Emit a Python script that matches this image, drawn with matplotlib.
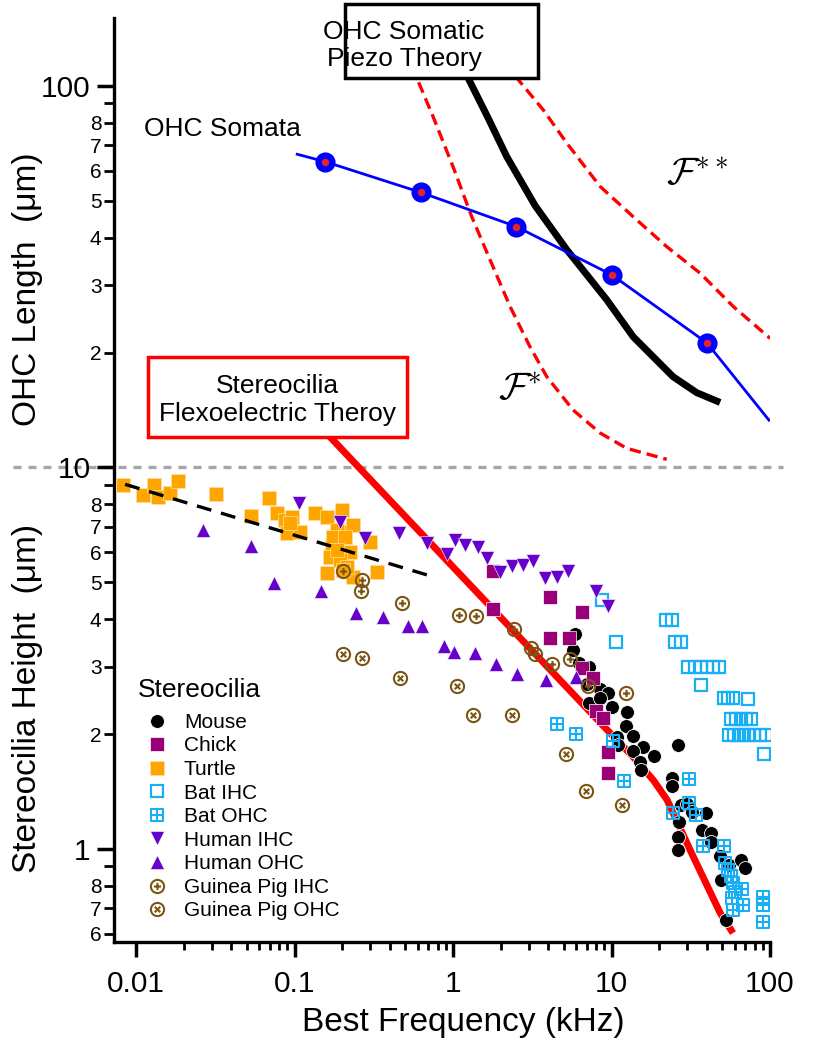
import numpy as np
import matplotlib
matplotlib.use('Agg')
from matplotlib import pyplot as plt
from matplotlib.path import Path
from matplotlib.patches import Rectangle
from matplotlib.ticker import FixedLocator, FixedFormatter, NullFormatter
import matplotlib.transforms as mtransforms

plt.rcParams['font.family'] = ['Liberation Sans', 'DejaVu Sans']
plt.rcParams['mathtext.fontset'] = 'cm'

# ---------------- data (kHz, um) ----------------
# OHC somata length
somata_f = [0.156, 0.625, 2.5, 10, 40]
somata_len = [63.3, 52.6, 42.8, 32.0, 21.2]
somata_line_f = [0.104, 0.156, 0.625, 2.5, 10, 40, 98.5]
somata_line_len = [66.2, 63.3, 52.6, 42.8, 32.0, 21.2, 13.3]

# OHC somatic piezo theory
piezo_f = [1.0, 1.243, 1.65, 2.18, 3.3, 5.22, 9.33, 13.7, 24.4, 34.5, 48.4]
piezo_len = [126, 105, 83.0, 65.3, 48.5, 37.2, 27.5, 22.0, 17.3, 15.7, 14.8]

# bounds F* and F**
fstar_f = [0.5, 0.59, 0.748, 1.0, 1.312, 1.712, 2.29, 3.06, 3.90, 5.71, 8.47, 12.47, 22.3]
fstar_len = [124, 105, 83.1, 61.4, 45.4, 35.0, 26.4, 20.7, 17.3, 14.15, 12.31, 11.22, 10.5]
fstar2_f = [2.1, 2.52, 3.71, 5.22, 8.47, 13.7, 22.3, 36.2, 58.7, 100]
fstar2_len = [115, 105, 86.5, 70.8, 54.5, 45.4, 37.9, 32.3, 26.4, 21.8]

# stereocilia flexoelectric theory
flexo_f = [0.15, 0.1675, 9.78, 13.7, 18.3, 22.4, 31.3, 48.4, 58.4]
flexo_h = [12.6, 12.02, 2.014, 1.742, 1.517, 1.345, 0.994, 0.68, 0.602]

# turtle fit
turtle_fit_f = [0.00853, 0.748]
turtle_fit_h = [9.03, 5.17]

# stereocilia heights
mouse_f = [5.89, 5.71, 6.19, 7.24, 7.00, 8.46, 9.44, 7.21, 8.46, 10.0, 12.5, 12.4, 13.7, 10.8,
           11.0, 15.7, 13.7, 18.5, 15.1, 15.4, 26.1, 24.0, 24.0, 27.3, 39.2, 26.5, 26.3, 26.1,
           37.1, 42.6, 42.6, 48.4, 55.0, 65.8, 70.0, 48.9, 52.6, 29.8, 32.2]
mouse_h = [3.67, 3.33, 3.07, 2.99, 2.71, 2.63, 2.56, 2.42, 2.49, 2.36, 2.28, 2.10, 1.98, 1.97,
           1.87, 1.85, 1.81, 1.75, 1.69, 1.61, 1.87, 1.53, 1.46, 1.30, 1.24, 1.18, 1.077, 0.996,
           1.12, 1.10, 1.045, 0.957, 0.906, 0.937, 0.893, 0.831, 0.651, 1.31, 1.25]

chick_f = [1.78, 1.78, 4.09, 6.47, 4.09, 5.39, 6.49, 7.68, 7.95, 8.78, 9.46, 9.46]
chick_h = [5.36, 4.26, 4.58, 4.19, 3.58, 3.57, 2.98, 2.80, 2.30, 2.21, 1.80, 1.58]

turtle_f = [0.0083, 0.0110, 0.0129, 0.0138, 0.0164, 0.0183, 0.032, 0.053, 0.069, 0.077, 0.087,
            0.096, 0.089, 0.108, 0.135, 0.160, 0.199, 0.194, 0.185, 0.235, 0.299, 0.172, 0.168,
            0.224, 0.194, 0.160, 0.235, 0.330, 0.176, 0.214, 0.208, 0.185, 0.203, 0.094]
turtle_h = [9.00, 8.47, 9.00, 8.35, 8.56, 9.23, 8.52, 7.46, 8.30, 7.58, 7.28,
            7.43, 6.72, 6.79, 7.58, 7.43, 7.74, 6.79, 6.86, 7.07, 6.39, 6.20, 5.84,
            6.02, 5.72, 5.30, 5.17, 5.33, 6.59, 5.48, 6.59, 6.09, 5.38, 7.16]

bat_ihc_f = [8.71, 10.6, 22.1, 24.0, 25.3, 27.4, 30.5, 33.4, 36.5, 40.0, 43.8, 47.9, 36.7, 51.3,
             54.6, 58.2, 72.3, 56.8, 61.0, 65.6, 70.6, 75.9, 55.1, 59.3, 63.7, 68.5, 73.7, 79.3,
             86.5, 94.4, 92.1]
bat_ihc_h = [4.49, 3.49, 3.98, 3.98, 3.49, 3.49, 2.99, 2.99, 2.99, 2.99, 2.99, 2.99, 2.69, 2.49,
             2.49, 2.49, 2.47, 2.19, 2.19, 2.19, 2.19, 2.19, 1.99, 1.99, 1.99, 1.99, 1.99, 1.99,
             1.99, 1.99, 1.774]

bat_ohc_f = [4.51, 5.93, 10.15, 11.9, 30.8, 30.6, 24.5, 34.1, 37.5, 51.5, 52.0, 54.3, 58.6, 66.5,
             57.3, 67.9, 58.6, 60.1, 89.9, 89.9, 90.7, 57.0]
bat_ohc_h = [2.12, 2.00, 1.92, 1.51, 1.526, 1.32, 1.24, 1.224, 1.018, 1.018, 0.921, 0.881, 0.814,
             0.783, 0.746, 0.713, 0.692, 0.772, 0.748, 0.711, 0.645, 0.85]

human_ihc_f = [0.107, 0.194, 0.279, 0.458, 0.683, 0.912, 1.03, 1.19, 1.445, 1.645, 1.98, 2.345,
               2.75, 3.21, 3.80, 4.50, 5.34, 7.98, 9.55]
human_ihc_h = [8.06, 7.21, 6.52, 6.75, 6.34, 5.93, 6.46, 6.26, 6.19, 5.79, 5.33, 5.50,
               5.55, 5.69, 5.12, 5.15, 5.36, 4.73, 4.33]

human_ohc_f = [0.0266, 0.053, 0.0743, 0.146, 0.244, 0.363, 0.522, 0.635, 0.877, 1.015, 1.377,
               1.854, 2.52, 3.86, 5.97]
human_ohc_h = [6.86, 6.23, 4.99, 4.75, 4.15, 4.06, 3.84, 3.83, 3.41, 3.29, 3.26,
               3.06, 2.88, 2.77, 2.82]

gp_ihc_f = [0.201, 0.266, 0.263, 0.475, 1.09, 1.39, 2.44, 3.09, 3.29, 4.23, 5.47, 7.14, 12.3]
gp_ihc_h = [5.36, 5.07, 4.73, 4.41, 4.11, 4.08, 3.77, 3.36, 3.24, 3.05, 3.15, 2.68, 2.57]

gp_ohc_f = [0.201, 0.266, 0.463, 1.06, 1.33, 2.35, 5.16, 6.88, 11.7]
gp_ohc_h = [3.25, 3.16, 2.80, 2.68, 2.24, 2.25, 1.77, 1.42, 1.30]

x_major = [0.01, 0.1, 1, 10, 100]
x_major_labels = ['0.01', '0.1', '1', '10', '100']
y_major = [1, 10, 100]
y_major_labels = ['1', '10', '100']

# ---------------- markers ----------------
M, L, C = Path.MOVETO, Path.LINETO, Path.CLOSEPOLY
grid_square = Path([(-1, -1), (1, -1), (1, 1), (-1, 1), (-1, -1),
                    (0, -1), (0, 1), (-1, 0), (1, 0)],
                   [M, L, L, L, C, M, L, M, L])
circ = Path.unit_circle()
plus_in = Path([(0, -0.55), (0, 0.55), (-0.55, 0), (0.55, 0)], [M, L, M, L])
cross_in = Path([(-0.42, -0.42), (0.42, 0.42), (-0.42, 0.42), (0.42, -0.42)], [M, L, M, L])
circ_plus = Path.make_compound_path(circ, plus_in)
circ_cross = Path.make_compound_path(circ, cross_in)

c_chick = '#990077'
c_turtle = '#FFA500'
c_bat = '#19AFF5'
c_human = '#6600CC'
c_gp = '#7A5514'

fig = plt.figure(figsize=(8.22, 10.5), dpi=100)
ax = fig.add_axes([0.1387, 0.1029, 0.7981, 0.88])
ax.set_xscale('log')
ax.set_yscale('log')
ax.set_xlim(0.00726, 100)
ax.set_ylim(0.5705, 150.7)

# boundary line at 10 um
blend = mtransforms.blended_transform_factory(ax.transAxes, ax.transData)
ax.plot([-0.154, 1.02], [10, 10], color='#A6A6A6', lw=2.4, linestyle=(0, (2.4, 2.1)),
        transform=blend, clip_on=False, zorder=1)

# theory curves
ax.plot(flexo_f, flexo_h, color='#FF0000', lw=5, solid_capstyle='butt', zorder=2)
ax.plot(fstar_f, fstar_len, color='#FF0000', lw=2.4, linestyle=(0, (3.4, 1.8)), zorder=2)
ax.plot(fstar2_f, fstar2_len, color='#FF0000', lw=2.4, linestyle=(0, (3.4, 1.8)), zorder=2)
ax.plot(piezo_f, piezo_len, color='black', lw=5, solid_capstyle='butt', zorder=3)
ax.plot(somata_line_f, somata_line_len, color='#0000FF', lw=2, zorder=4)
ax.plot(somata_f, somata_len, linestyle='none', marker='o', ms=10, mfc='#E8202A',
        mec='#0000FF', mew=4.5, zorder=4.5)

# stereocilia data
handles = {}
handles['Mouse'], = ax.plot(mouse_f, mouse_h, 'o', ms=10, color='black', mec='white', mew=0.6,
                            label='Mouse', zorder=5)
handles['Turtle'], = ax.plot(turtle_f, turtle_h, 's', ms=9.5, color=c_turtle, mec='#FFE0A0', mew=0.5,
                             label='Turtle', zorder=5)
handles['Chick'], = ax.plot(chick_f, chick_h, 's', ms=9.5, color=c_chick, mec='white', mew=0.5,
                            label='Chick', zorder=5)
handles['Bat IHC'], = ax.plot(bat_ihc_f, bat_ihc_h, 's', ms=9, mfc='none', mec=c_bat, mew=1.6,
                              label='Bat IHC', zorder=5)
handles['Bat OHC'], = ax.plot(bat_ohc_f, bat_ohc_h, linestyle='none', marker=grid_square, ms=9,
                              mfc='none', mec=c_bat, mew=1.5, label='Bat OHC', zorder=5)
handles['Human IHC'], = ax.plot(human_ihc_f, human_ihc_h, 'v', ms=10.5, color=c_human, mec='white',
                                mew=0.4, label='Human IHC', zorder=5)
handles['Human OHC'], = ax.plot(human_ohc_f, human_ohc_h, '^', ms=10.5, color=c_human, mec='white',
                                mew=0.4, label='Human OHC', zorder=5)
handles['Guinea Pig IHC'], = ax.plot(gp_ihc_f, gp_ihc_h, linestyle='none', marker=circ_plus, ms=9.5,
                                     mfc='none', mec=c_gp, mew=1.5, label='Guinea Pig IHC', zorder=5)
handles['Guinea Pig OHC'], = ax.plot(gp_ohc_f, gp_ohc_h, linestyle='none', marker=circ_cross, ms=9.5,
                                     mfc='none', mec=c_gp, mew=1.5, label='Guinea Pig OHC', zorder=5)

ax.plot(turtle_fit_f, turtle_fit_h, color='black', lw=2.4, linestyle=(0, (4.5, 3)), zorder=6)

order = ['Mouse', 'Chick', 'Turtle', 'Bat IHC', 'Bat OHC', 'Human IHC', 'Human OHC',
         'Guinea Pig IHC', 'Guinea Pig OHC']
ax.text(0.0361, 0.2655, 'Stereocilia', transform=ax.transAxes, fontsize=19, va='baseline')
leg = ax.legend([handles[k] for k in order], order, loc='upper left',
                bbox_to_anchor=(0.036, 0.248), frameon=False, fontsize=15, borderpad=0,
                borderaxespad=0, handlelength=1.85, handletextpad=0.37, labelspacing=0.22)

# annotations
ax.text(0.0457, 0.8723, 'OHC Somata', transform=ax.transAxes, fontsize=19, va='baseline')
ax.text(0.888, 0.830, r'$\mathcal{F}^{**}$', transform=ax.transAxes, fontsize=28,
        ha='center', va='center')
ax.text(0.619, 0.597, r'$\mathcal{F}^{*}$', transform=ax.transAxes, fontsize=28,
        ha='center', va='center')

ax.add_patch(Rectangle((0.3521, 0.9351), 0.2942, 0.0801, transform=ax.transAxes,
                       facecolor='white', edgecolor='black', lw=2.5, clip_on=False, zorder=10))
ax.text(0.4421, 0.9702, 'OHC Somatic\nPiezo Theory', transform=ax.transAxes, fontsize=19,
        ha='center', va='center', zorder=11)
ax.add_patch(Rectangle((0.0514, 0.5462), 0.3948, 0.0872, transform=ax.transAxes,
                       facecolor='white', edgecolor='#FF0000', lw=2.5, clip_on=False, zorder=10))
ax.text(0.2488, 0.5863, 'Stereocilia\nFlexoelectric Theroy', transform=ax.transAxes,
        fontsize=19, ha='center', va='center', zorder=11)

# axes styling
for s in ['top', 'right']:
    ax.spines[s].set_visible(False)
for s in ['left', 'bottom']:
    ax.spines[s].set_linewidth(2.4)

x_minor = [m * d for d in [0.01, 0.1, 1, 10] for m in range(2, 10)]
y_minor = [m * d for d in [0.1, 1, 10] for m in range(2, 10) if m * d > 0.57]
y_minor_labels = ['' if round(v / 10 ** np.floor(np.log10(v) + 1e-9)) == 9
                  else str(int(round(v / 10 ** np.floor(np.log10(v) + 1e-9)))) for v in y_minor]

ax.xaxis.set_major_locator(FixedLocator(x_major))
ax.xaxis.set_major_formatter(FixedFormatter(x_major_labels))
ax.xaxis.set_minor_locator(FixedLocator(x_minor))
ax.xaxis.set_minor_formatter(NullFormatter())
ax.yaxis.set_major_locator(FixedLocator(y_major))
ax.yaxis.set_major_formatter(FixedFormatter(y_major_labels))
ax.yaxis.set_minor_locator(FixedLocator(y_minor))
ax.yaxis.set_minor_formatter(FixedFormatter(y_minor_labels))

ax.tick_params(axis='x', which='major', length=11, width=2.5, labelsize=21.5, pad=9)
ax.tick_params(axis='x', which='minor', length=6, width=2)
ax.tick_params(axis='y', which='major', length=12, width=2.5, labelsize=21.5, pad=5)
ax.tick_params(axis='y', which='minor', length=7, width=2, labelsize=15, pad=2)

ax.set_xlabel('Best Frequency (kHz)', fontsize=24)
ax.xaxis.set_label_coords(0.532, -0.070)
fig.text(27.5 / 822, 1 - 289 / 1050, 'OHC Length  (μm)', rotation=90, fontsize=24,
         ha='center', va='center')
fig.text(27.5 / 822, 1 - 698 / 1050, 'Stereocilia Height  (μm)', rotation=90, fontsize=24,
         ha='center', va='center')

fig.savefig('out.png', dpi=100)
